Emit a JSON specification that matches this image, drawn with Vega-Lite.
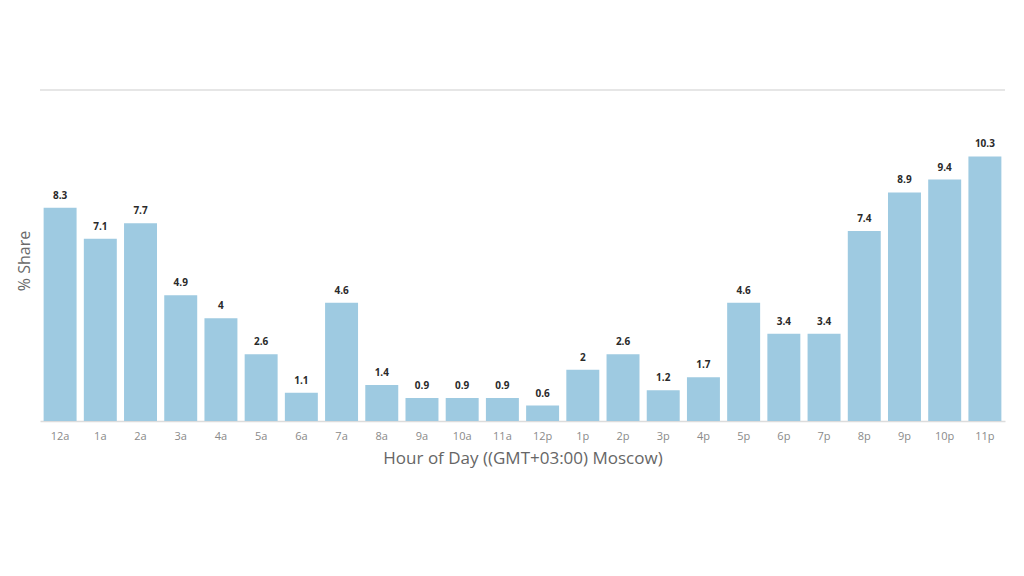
{
  "$schema": "https://vega.github.io/schema/vega-lite/v6.json",
  "autosize": "none",
  "width": 965,
  "height": 321,
  "padding": {"left": 40, "top": 100, "right": 19, "bottom": 155},
  "background": "white",
  "view": {"stroke": null},
  "config": {"font": "Open Sans"},
  "data": {
    "values": [
      {"hour": "12a", "share": 8.3},
      {"hour": "1a", "share": 7.1},
      {"hour": "2a", "share": 7.7},
      {"hour": "3a", "share": 4.9},
      {"hour": "4a", "share": 4},
      {"hour": "5a", "share": 2.6},
      {"hour": "6a", "share": 1.1},
      {"hour": "7a", "share": 4.6},
      {"hour": "8a", "share": 1.4},
      {"hour": "9a", "share": 0.9},
      {"hour": "10a", "share": 0.9},
      {"hour": "11a", "share": 0.9},
      {"hour": "12p", "share": 0.6},
      {"hour": "1p", "share": 2},
      {"hour": "2p", "share": 2.6},
      {"hour": "3p", "share": 1.2},
      {"hour": "4p", "share": 1.7},
      {"hour": "5p", "share": 4.6},
      {"hour": "6p", "share": 3.4},
      {"hour": "7p", "share": 3.4},
      {"hour": "8p", "share": 7.4},
      {"hour": "9p", "share": 8.9},
      {"hour": "10p", "share": 9.4},
      {"hour": "11p", "share": 10.3}
    ]
  },
  "encoding": {
    "x": {
      "field": "hour", "type": "nominal", "sort": null,
      "scale": {"paddingInner": 0.18, "paddingOuter": 0.09},
      "title": "Hour of Day ((GMT+03:00) Moscow)",
      "axis": {
        "labelAngle": 0, "labelFontSize": 11, "labelColor": "#8a8a8a", "labelPadding": 9,
        "ticks": false, "domainColor": "#dcdcdc", "domainWidth": 1.5,
        "titleFontSize": 17, "titleFontWeight": "normal", "titleColor": "#666666", "titlePadding": 9
      }
    },
    "y": {
      "field": "share", "type": "quantitative",
      "scale": {"domain": [0, 12.5]},
      "title": "% Share",
      "axis": {
        "labels": false, "ticks": false, "domain": false, "grid": false,
        "titleFontSize": 16, "titleFontWeight": "normal", "titleColor": "#6a6a6a", "titlePadding": 8
      }
    }
  },
  "layer": [
    {"mark": {"type": "bar", "color": "#9ecae1"}},
    {
      "mark": {"type": "text", "baseline": "bottom", "dy": -7, "fontSize": 10, "fontWeight": "bold", "color": "#2a2a2a"},
      "encoding": {"text": {"field": "share", "type": "quantitative"}}
    },
    {
      "mark": {"type": "rule", "color": "#e6e6e6", "strokeWidth": 1.5, "clip": false},
      "encoding": {"y": {"datum": 12.88}, "x": null}
    }
  ]
}
